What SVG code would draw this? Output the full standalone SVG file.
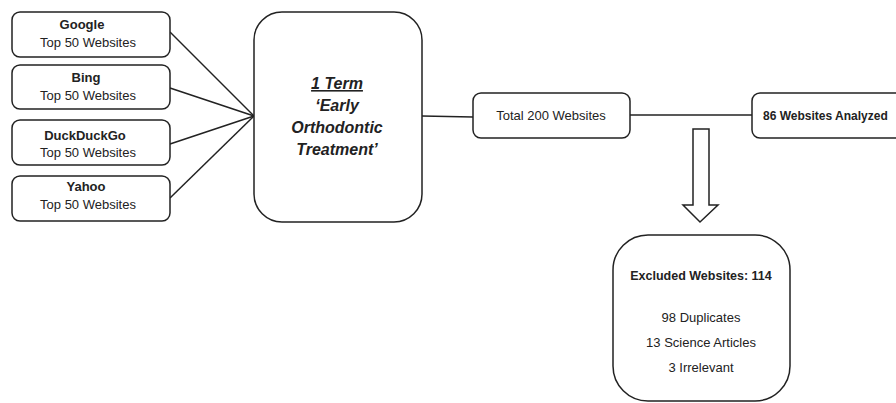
<svg xmlns="http://www.w3.org/2000/svg" width="896" height="403" viewBox="0 0 896 403">
<style>
.box{fill:#fff;stroke:#222;stroke-width:1.5}
.ln{stroke:#222;stroke-width:1.5;fill:none}
text{font-family:"Liberation Sans",Arial,sans-serif;fill:#222;text-anchor:middle}
.t{font-size:13px}
.b{font-size:13px;font-weight:bold}
.c{font-size:16px;font-weight:bold;font-style:italic}
</style>
<rect width="896" height="403" fill="#fff"/>
<g id="connectors">
<line class="ln" x1="170" y1="32" x2="254" y2="116"/>
<line class="ln" x1="170" y1="88" x2="254" y2="116"/>
<line class="ln" x1="170" y1="144" x2="254" y2="116"/>
<line class="ln" x1="170" y1="198" x2="254" y2="116"/>
<line class="ln" x1="422" y1="116" x2="473" y2="117"/>
<line class="ln" x1="630" y1="115" x2="752" y2="115"/>
<polygon class="box" points="693,129 709,129 709,205 718,205 700,222 683,205 693,205"/>
</g>
<g id="google">
<rect class="box" x="12" y="12" width="158" height="45" rx="8"/>
<text class="b" x="82" y="29">Google</text>
<text class="t" x="88" y="47">Top 50 Websites</text>
</g>
<g id="bing">
<rect class="box" x="12" y="65" width="158" height="44" rx="8"/>
<text class="b" x="86" y="82">Bing</text>
<text class="t" x="88" y="100">Top 50 Websites</text>
</g>
<g id="duckduckgo">
<rect class="box" x="12" y="120" width="158" height="45" rx="8"/>
<text class="b" x="85" y="140">DuckDuckGo</text>
<text class="t" x="88" y="157">Top 50 Websites</text>
</g>
<g id="yahoo">
<rect class="box" x="12" y="176" width="158" height="45" rx="8"/>
<text class="b" x="86" y="191">Yahoo</text>
<text class="t" x="88" y="209">Top 50 Websites</text>
</g>
<g id="term">
<rect class="box" x="254" y="12" width="168" height="210" rx="28"/>
<text class="c" x="337" y="89" text-decoration="underline">1 Term</text>
<text class="c" x="337" y="111">‘Early</text>
<text class="c" x="337" y="133">Orthodontic</text>
<text class="c" x="337" y="155">Treatment’</text>
</g>
<g id="total">
<rect class="box" x="473" y="93" width="157" height="45" rx="8"/>
<text class="t" x="551" y="120">Total 200 Websites</text>
</g>
<g id="analyzed">
<rect class="box" x="752" y="93" width="160" height="45" rx="8"/>
<text class="b" x="763" y="120" style="text-anchor:start;font-size:12px">86 Websites Analyzed</text>
</g>
<g id="excluded">
<rect class="box" x="613" y="235" width="177" height="166" rx="35"/>
<text class="b" x="701" y="280" style="font-size:12.5px">Excluded Websites: 114</text>
<text class="t" x="701" y="322">98 Duplicates</text>
<text class="t" x="701" y="347">13 Science Articles</text>
<text class="t" x="701" y="372">3 Irrelevant</text>
</g>
</svg>
